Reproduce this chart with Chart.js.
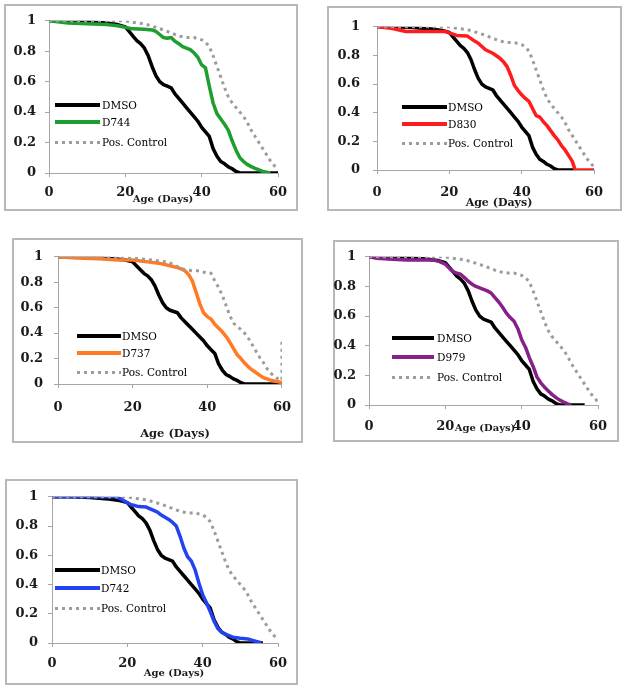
<!DOCTYPE html>
<html>
<head>
<meta charset="utf-8">
<script src="https://cdn.jsdelivr.net/npm/chart.js@4.4.1/dist/chart.umd.min.js"></script>
<style>
  html, body { margin: 0; padding: 0; background: #fff; }
  body { width: 628px; height: 690px; position: relative; overflow: hidden; }
  .frame { position: absolute; box-sizing: border-box; border: 2px solid #b8b8b8; }
  canvas { position: absolute; }
  .xtitle { position: absolute; font-family: 'DejaVu Serif', serif; font-weight: bold; color: #1a1a1a;
            white-space: nowrap; transform: translate(-50%, -50%); line-height: 1; }
  .leg { position: absolute; height: 0; }
  .leg .sample { position: absolute; left: 0; }
  .leg .label { position: absolute; font-family: 'DejaVu Serif', serif; font-size: 10.5px; color: #000;
                white-space: nowrap; transform: translateY(-50%); line-height: 1; }
</style>
</head>
<body>
<script>
// 생존곡선 5개 패널 (DMSO / 처리군 / Pos. Control)

// ---- 데이터 ----
var X_TICKS = [0, 20, 40, 60];
var Y_TICKS = [0, 0.2, 0.4, 0.6, 0.8, 1];
var X_TITLE = 'Age (Days)';

var DMSO_LABEL = 'DMSO';
var DMSO_DAYS = [0, 5, 10, 15, 18, 20, 21, 22, 23, 24, 25, 26, 27, 28, 29, 30, 31, 32, 33, 34, 35, 36, 37, 38, 39, 40, 41, 42, 43, 44, 45, 46, 47, 48, 49, 50];
var DMSO_SURV = [1, 1, 0.995, 0.985, 0.975, 0.96, 0.93, 0.9, 0.87, 0.85, 0.82, 0.77, 0.7, 0.64, 0.6, 0.58, 0.57, 0.56, 0.52, 0.49, 0.46, 0.43, 0.4, 0.37, 0.34, 0.3, 0.27, 0.24, 0.16, 0.11, 0.075, 0.06, 0.04, 0.028, 0.01, 0];
// 패널마다 DMSO 선이 0에서 끝나는 날
var DMSO_END = [60, 55, 60, 56.5, 56];

var POS_LABEL = 'Pos. Control';
var POS_DAYS = [0, 10, 20, 22, 25, 27, 30, 32, 34, 36, 38, 40, 41, 42, 43, 44, 45, 46, 47, 48, 49, 50, 51, 52, 53, 54, 55, 56, 57, 58, 59, 60];
var POS_SURV = [1, 1, 1, 0.99, 0.98, 0.965, 0.94, 0.92, 0.9, 0.89, 0.89, 0.875, 0.86, 0.83, 0.77, 0.7, 0.63, 0.56, 0.5, 0.46, 0.43, 0.4, 0.37, 0.33, 0.28, 0.24, 0.2, 0.16, 0.12, 0.08, 0.05, 0.02];
// 세 번째 패널의 Pos. Control (끝에 세로 점선 포함)
var POS3_DAYS = [0, 10, 20, 25, 29, 31, 33, 36, 38, 40, 41, 42, 43, 44, 45, 46, 47, 48, 49, 50, 51, 52, 53, 54, 55, 56, 57, 58, 59, 60, 60];
var POS3_SURV = [1, 1, 0.99, 0.975, 0.96, 0.94, 0.905, 0.89, 0.89, 0.87, 0.87, 0.81, 0.76, 0.7, 0.62, 0.54, 0.48, 0.45, 0.43, 0.4, 0.36, 0.31, 0.26, 0.21, 0.17, 0.12, 0.085, 0.06, 0.04, 0.03, 0.36];

var D744_DAYS = [0, 5, 10, 15, 18, 20, 22, 25, 27, 28, 29, 30, 31, 32, 33, 34, 35, 36, 37, 38, 39, 40, 41, 42, 43, 44, 45, 46, 47, 48, 49, 50, 51, 52, 53, 54, 55, 56, 57, 58];
var D744_SURV = [1, 0.985, 0.98, 0.975, 0.968, 0.957, 0.947, 0.945, 0.94, 0.93, 0.91, 0.89, 0.885, 0.89, 0.865, 0.85, 0.83, 0.82, 0.81, 0.79, 0.76, 0.71, 0.69, 0.57, 0.46, 0.39, 0.355, 0.32, 0.28, 0.21, 0.15, 0.1, 0.075, 0.055, 0.042, 0.03, 0.02, 0.01, 0.005, 0];

var D830_DAYS = [0, 4, 8, 10, 15, 19, 20, 22, 25, 27, 28, 30, 32, 34, 35, 36, 37, 38, 39, 40, 41, 42, 43, 44, 45, 46, 47, 48, 49, 50, 51, 52, 53, 54, 54.8, 60];
var D830_SURV = [1, 0.99, 0.967, 0.967, 0.967, 0.967, 0.957, 0.94, 0.935, 0.9, 0.885, 0.84, 0.815, 0.78, 0.755, 0.72, 0.66, 0.59, 0.555, 0.525, 0.5, 0.48, 0.43, 0.38, 0.37, 0.337, 0.31, 0.275, 0.24, 0.21, 0.17, 0.14, 0.1, 0.06, 0, 0];

var D737_DAYS = [0, 5, 11, 16, 20, 24, 27, 30, 32, 33, 34, 35, 36, 37, 38, 39, 40, 41, 42, 43, 44, 45, 46, 47, 48, 49, 50, 51, 52, 53, 54, 55, 57, 59, 60];
var D737_SURV = [1, 0.99, 0.985, 0.975, 0.975, 0.96, 0.95, 0.93, 0.915, 0.905, 0.89, 0.86, 0.81, 0.72, 0.63, 0.56, 0.53, 0.51, 0.47, 0.44, 0.41, 0.375, 0.33, 0.28, 0.23, 0.2, 0.165, 0.135, 0.11, 0.09, 0.07, 0.05, 0.03, 0.017, 0.012];

var D979_DAYS = [0, 2, 5, 10, 17, 18.5, 20, 21, 22, 23, 24, 25, 26, 27, 28, 29, 30, 31, 32, 33, 34, 35, 36, 37, 38, 39, 40, 41, 42, 43, 44, 45, 46, 47, 48, 49, 50, 51, 52, 53];
var D979_SURV = [1, 0.99, 0.985, 0.978, 0.978, 0.967, 0.95, 0.925, 0.9, 0.89, 0.882, 0.86, 0.835, 0.815, 0.8, 0.79, 0.78, 0.77, 0.755, 0.725, 0.695, 0.66, 0.62, 0.59, 0.565, 0.515, 0.44, 0.39, 0.32, 0.26, 0.19, 0.15, 0.12, 0.095, 0.07, 0.05, 0.033, 0.02, 0.008, 0];

var D742_DAYS = [0, 10, 17, 18, 19, 20, 21, 22, 23, 25, 27, 28, 29, 30, 31, 32, 33, 34, 35, 36, 37, 38, 39, 40, 41, 42, 43, 44, 45, 46, 48, 50, 52, 53, 54, 55, 55.5];
var D742_SURV = [1, 1, 1, 0.99, 0.975, 0.96, 0.945, 0.94, 0.933, 0.93, 0.907, 0.895, 0.875, 0.86, 0.845, 0.825, 0.8, 0.73, 0.65, 0.59, 0.56, 0.5, 0.41, 0.33, 0.275, 0.215, 0.15, 0.1, 0.075, 0.06, 0.04, 0.033, 0.028, 0.02, 0.012, 0.006, 0];

var TREAT_LABELS = ['D744', 'D830', 'D737', 'D979', 'D742'];
var TREAT_DAYS = [D744_DAYS, D830_DAYS, D737_DAYS, D979_DAYS, D742_DAYS];
var TREAT_SURV = [D744_SURV, D830_SURV, D737_SURV, D979_SURV, D742_SURV];

// ---- 스타일 / 배치 ----
var TREAT_COLORS = ['#1f9e30', '#ff1c1c', '#ff7a22', '#86218a', '#2342f2'];
var DMSO_COLOR = '#000000';
var POS_COLOR = '#9c9c9c';
var AXIS_COLOR = '#a6a6a6';
var TICK_COLOR = '#1a1a1a';
var TICK_FONT = { family: "'DejaVu Serif', serif", size: 13, weight: 'bold' };

// box: [left, top, right, bottom], plot: [left, right, top, bottom] (page px)
var LAYOUT = [
  { box: [4, 4, 298, 211],     plot: [49, 278, 17, 173],   yPad: 9,  xPad: 8,
    title: [163, 199, 10],   legend: { x: 55,  len: 45, text: 102, rows: [105, 122, 142] } },
  { box: [327, 6, 622, 211],   plot: [377, 594, 17, 170],  yPad: 13, xPad: 11,
    title: [499, 202, 11],   legend: { x: 402, len: 45, text: 448, rows: [107, 124, 143] } },
  { box: [12, 238, 303, 443],  plot: [58, 283, 249, 384],  yPad: 11, xPad: 12,
    title: [175, 434, 11.5], legend: { x: 77,  len: 44, text: 122, rows: [336, 353, 372] } },
  { box: [333, 240, 619, 442], plot: [369, 598, 253, 405], yPad: 9,  xPad: 10,
    title: [485, 428, 10],   legend: { x: 392, len: 42, text: 437, rows: [338, 357, 377] } },
  { box: [5, 479, 298, 685],   plot: [52, 278, 489, 643],  yPad: 10, xPad: 9,
    title: [174, 673, 10],   legend: { x: 55,  len: 45, text: 101, rows: [570, 588, 608] } }
];

function toPoints(days, surv) {
  return days.map(function (d, i) { return { x: d, y: surv[i] }; });
}

function addLegend(lg, idx, label, color, dotted) {
  var row = document.createElement('div');
  row.className = 'leg';
  row.style.left = lg.x + 'px';
  row.style.top = lg.rows[idx] + 'px';
  var s = document.createElement('span');
  s.className = 'sample';
  s.style.width = lg.len + 'px';
  if (dotted) {
    s.style.height = '3px';
    s.style.top = '-1.5px';
    s.style.background = 'repeating-linear-gradient(to right, ' + color + ' 0 3px, transparent 3px 7px)';
  } else {
    s.style.height = '4px';
    s.style.top = '-2px';
    s.style.background = color;
  }
  var t = document.createElement('span');
  t.className = 'label';
  t.style.left = (lg.text - lg.x) + 'px';
  t.textContent = label;
  row.appendChild(s);
  row.appendChild(t);
  document.body.appendChild(row);
}

function buildPanel(i) {
  var p = LAYOUT[i];
  var W = p.box[2] - p.box[0], H = p.box[3] - p.box[1];

  var frame = document.createElement('div');
  frame.className = 'frame';
  frame.style.left = p.box[0] + 'px';
  frame.style.top = p.box[1] + 'px';
  frame.style.width = W + 'px';
  frame.style.height = H + 'px';
  document.body.appendChild(frame);

  var canvas = document.createElement('canvas');
  canvas.width = W;
  canvas.height = H;
  canvas.style.left = p.box[0] + 'px';
  canvas.style.top = p.box[1] + 'px';
  canvas.style.width = W + 'px';
  canvas.style.height = H + 'px';
  document.body.appendChild(canvas);

  var yW = p.plot[0] - p.box[0];
  var padR = p.box[2] - p.plot[1];
  var padT = p.plot[2] - p.box[1];
  var xH = p.box[3] - p.plot[3];

  var dmso = toPoints(DMSO_DAYS, DMSO_SURV);
  dmso.push({ x: DMSO_END[i], y: 0 });
  var pos = i === 2 ? toPoints(POS3_DAYS, POS3_SURV) : toPoints(POS_DAYS, POS_SURV);

  new Chart(canvas, {
    type: 'line',
    data: {
      datasets: [
        { label: POS_LABEL, data: pos, order: 0, borderColor: POS_COLOR, borderWidth: 3,
          borderDash: [3, 4], borderCapStyle: 'butt', pointRadius: 0, tension: 0, fill: false },
        { label: TREAT_LABELS[i], data: toPoints(TREAT_DAYS[i], TREAT_SURV[i]), order: 1,
          borderColor: TREAT_COLORS[i], borderWidth: 3.5, borderJoinStyle: 'round', pointRadius: 0, tension: 0, fill: false },
        { label: DMSO_LABEL, data: dmso, order: 2, borderColor: DMSO_COLOR, borderWidth: 3.5,
          borderJoinStyle: 'round', pointRadius: 0, tension: 0, fill: false }
      ]
    },
    options: {
      responsive: false,
      animation: false,
      events: [],
      layout: { padding: { left: 0, top: padT, right: padR, bottom: 0 } },
      scales: {
        x: {
          type: 'linear',
          min: X_TICKS[0],
          max: X_TICKS[X_TICKS.length - 1],
          afterFit: function (s) { s.height = xH; },
          afterBuildTicks: function (s) { s.ticks = X_TICKS.map(function (v) { return { value: v }; }); },
          ticks: { color: TICK_COLOR, font: TICK_FONT, padding: p.xPad, maxRotation: 0, autoSkip: false },
          grid: { display: true, drawOnChartArea: false, drawTicks: true, tickLength: 4, color: AXIS_COLOR },
          border: { display: true, color: AXIS_COLOR, width: 1 }
        },
        y: {
          type: 'linear',
          min: Y_TICKS[0],
          max: Y_TICKS[Y_TICKS.length - 1],
          afterFit: function (s) { s.width = yW; },
          afterBuildTicks: function (s) { s.ticks = Y_TICKS.map(function (v) { return { value: v }; }); },
          ticks: { color: TICK_COLOR, font: TICK_FONT, padding: p.yPad,
                   callback: function (v) { return String(Math.round(v * 10) / 10); } },
          grid: { display: true, drawOnChartArea: false, drawTicks: true, tickLength: 4, color: AXIS_COLOR },
          border: { display: true, color: AXIS_COLOR, width: 1 }
        }
      },
      plugins: { legend: { display: false }, tooltip: { enabled: false }, title: { display: false } }
    }
  });

  var tt = document.createElement('div');
  tt.className = 'xtitle';
  tt.style.left = p.title[0] + 'px';
  tt.style.top = p.title[1] + 'px';
  tt.style.fontSize = p.title[2] + 'px';
  tt.textContent = X_TITLE;
  document.body.appendChild(tt);

  addLegend(p.legend, 0, DMSO_LABEL, DMSO_COLOR, false);
  addLegend(p.legend, 1, TREAT_LABELS[i], TREAT_COLORS[i], false);
  addLegend(p.legend, 2, POS_LABEL, POS_COLOR, true);
}

for (var k = 0; k < LAYOUT.length; k++) buildPanel(k);
</script>
</body>
</html>
